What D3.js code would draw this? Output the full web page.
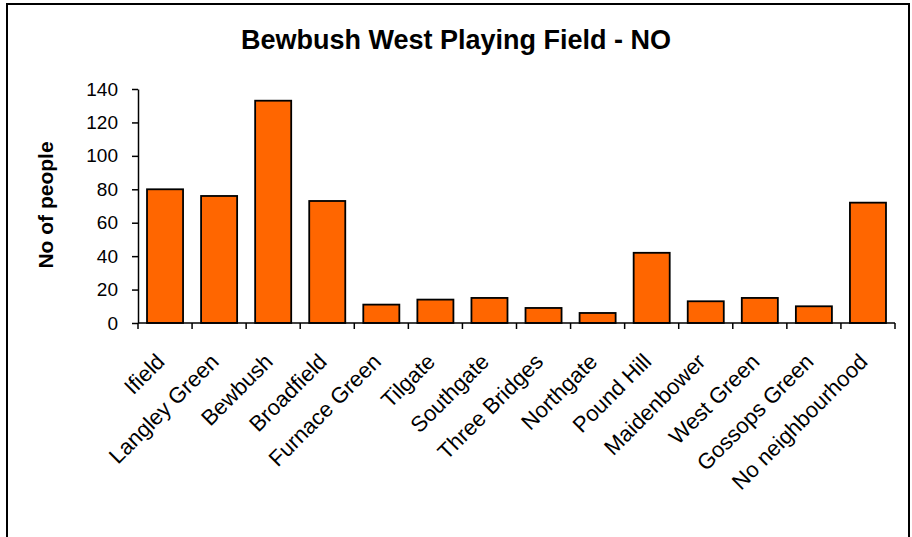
<!DOCTYPE html>
<html>
<head>
<meta charset="utf-8">
<script src="https://cdn.jsdelivr.net/npm/d3@7"></script>
<style>
  html, body { margin: 0; padding: 0; background: #fff; }
  svg { display: block; font-family: "Liberation Sans", Arial, sans-serif; }
</style>
</head>
<body>
<svg id="chart" width="912" height="537"></svg>
<script>
// Neighbourhoods of respondents answering "NO"
const categories = ["Ifield", "Langley Green", "Bewbush", "Broadfield", "Furnace Green",
  "Tilgate", "Southgate", "Three Bridges", "Northgate", "Pound Hill",
  "Maidenbower", "West Green", "Gossops Green", "No neighbourhood"];
const counts = [80, 76, 133, 73, 11, 14, 15, 9, 6, 42, 13, 15, 10, 72];
const yTicks = [0, 20, 40, 60, 80, 100, 120, 140];

const svg = d3.select("#chart");

// outer chart frame (open at the bottom edge of the page)
svg.append("rect")
  .attr("x", 7).attr("y", 4)
  .attr("width", 902).attr("height", 560)
  .attr("fill", "#fff").attr("stroke", "#000").attr("stroke-width", 2);

const plot = { left: 138, right: 895, top: 89, bottom: 323 };

const x = d3.scaleBand()
  .domain(categories)
  .range([plot.left, plot.right])
  .paddingInner(1 / 3)
  .paddingOuter(1 / 6);

const y = d3.scaleLinear()
  .domain([0, 140])
  .range([plot.bottom, plot.top]);

// title
svg.append("text")
  .attr("x", 456).attr("y", 49)
  .attr("text-anchor", "middle")
  .attr("font-size", 27).attr("font-weight", "bold")
  .text("Bewbush West Playing Field - NO");

// y axis
const yAxis = svg.append("g")
  .attr("transform", `translate(${plot.left},0)`)
  .call(d3.axisLeft(y).tickValues(yTicks).tickSize(6).tickPadding(14).tickSizeOuter(0));
yAxis.select(".domain").attr("stroke", "#000").attr("stroke-width", 1.5);
yAxis.selectAll(".tick line").attr("stroke", "#000").attr("stroke-width", 1.5);
yAxis.selectAll(".tick text")
  .attr("font-size", 19).attr("fill", "#000")
  .attr("font-family", "'Liberation Sans', Arial, sans-serif");

// y axis title
svg.append("text")
  .attr("transform", `translate(53,${(plot.top + plot.bottom) / 2 - 1}) rotate(-90)`)
  .attr("text-anchor", "middle")
  .attr("font-size", 21).attr("font-weight", "bold")
  .text("No of people");

// bars
svg.append("g").selectAll("rect")
  .data(categories)
  .join("rect")
  .attr("x", d => x(d))
  .attr("y", (d, i) => y(counts[i]))
  .attr("width", x.bandwidth())
  .attr("height", (d, i) => y(0) - y(counts[i]))
  .attr("fill", "#FF6600")
  .attr("stroke", "#000")
  .attr("stroke-width", 1.8);

// x axis line with ticks between categories
const step = x.step();
const boundaries = categories.map(d => x(d) - step * x.paddingOuter()).concat([plot.right]);
const xAxis = svg.append("g");
xAxis.append("line")
  .attr("x1", plot.left).attr("x2", plot.right)
  .attr("y1", plot.bottom).attr("y2", plot.bottom)
  .attr("stroke", "#000").attr("stroke-width", 1.5);
xAxis.selectAll("line.tk")
  .data(boundaries)
  .join("line")
  .attr("class", "tk")
  .attr("x1", d => d).attr("x2", d => d)
  .attr("y1", plot.bottom).attr("y2", plot.bottom + 6)
  .attr("stroke", "#000").attr("stroke-width", 1.5);

// rotated category labels
xAxis.selectAll("text")
  .data(categories)
  .join("text")
  .attr("transform", d => `translate(${x(d) + x.bandwidth() / 2 + 1},${plot.bottom + 40}) rotate(-45)`)
  .attr("text-anchor", "end")
  .attr("font-size", 22)
  .text(d => d);
</script>
</body>
</html>
